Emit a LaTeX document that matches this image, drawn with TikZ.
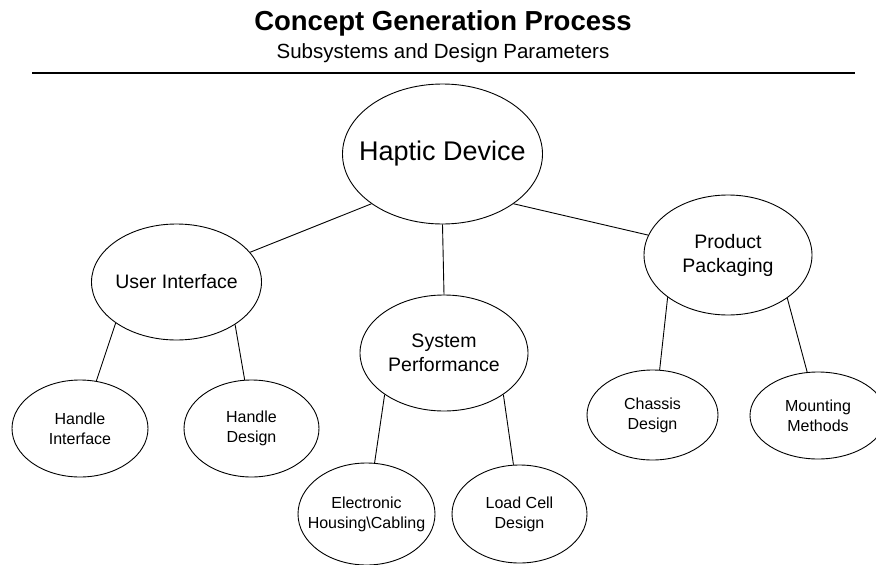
\documentclass[tikz,border=0pt]{standalone}
\usepackage{fontspec}
\setmainfont{Liberation Sans}
\usetikzlibrary{shapes.geometric}
\begin{document}
\begin{tikzpicture}[x=1pt,y=-1pt,
  bub/.style={draw, ellipse, inner xsep=-40pt, inner ysep=-30pt, line width=0.9pt, align=center},
  big/.style={font=\fontsize{27}{32}\selectfont},
  mid/.style={font=\fontsize{19.5}{24}\selectfont},
  sml/.style={font=\fontsize{16}{20}\selectfont},
  link/.style={line width=0.9pt}]
\useasboundingbox (0,0) rectangle (876,565);
\node[anchor=base, font=\bfseries\fontsize{27.5}{32}\selectfont] (title) at (443,30) {Concept Generation Process};
\node[anchor=base, font=\fontsize{20.5}{24}\selectfont] (sub) at (443,58) {Subsystems and Design Parameters};
\coordinate (rl) at (32,73);
\coordinate (rr) at (855,73);
\draw[line width=1.3pt] (rl) -- (rr);

\node[bub, big, minimum width=200pt, minimum height=140pt] (hd) at (442.5,154) {Haptic Device};
\node[bub, mid, minimum width=170pt, minimum height=116pt] (ui) at (176.5,282) {User Interface};
\node[bub, mid, minimum width=168pt, minimum height=116pt] (sp) at (444,353) {System\\Performance};
\node[bub, mid, minimum width=168pt, minimum height=120pt] (pp) at (728,255) {Product\\Packaging};
\node[bub, sml, minimum width=136pt, minimum height=97pt] (hi) at (80,428.5) {Handle\\Interface};
\node[bub, sml, minimum width=135pt, minimum height=97pt] (hdz) at (251.5,428.5) {Handle\\Design};
\node[bub, sml, minimum width=137pt, minimum height=102pt] (eh) at (366.5,514) {Electronic\\Housing\textbackslash Cabling};
\node[bub, sml, minimum width=135pt, minimum height=98pt] (lc) at (519.5,514) {Load Cell\\Design};
\node[bub, sml, minimum width=131pt, minimum height=90pt] (cd) at (652.5,415) {Chassis\\Design};
\node[bub, sml, minimum width=136pt, minimum height=87pt] (mm) at (818,415.5) {Mounting\\Methods};

\draw[link] (hd.215.6) -- (ui.22.2);
\draw[link] (hd.270) -- (sp.90);
\draw[link] (hd.325) -- (pp.166.2);
\draw[link] (ui.214.8) -- (hi.71.4);
\draw[link] (ui.324.9) -- (hdz.98.6);
\draw[link] (sp.215.4) -- (eh.81.3);
\draw[link] (sp.325.1) -- (lc.97.7);
\draw[link] (pp.215.9) -- (cd.81.4);
\draw[link] (pp.324.5) -- (mm.104.2);
\end{tikzpicture}
\end{document}
